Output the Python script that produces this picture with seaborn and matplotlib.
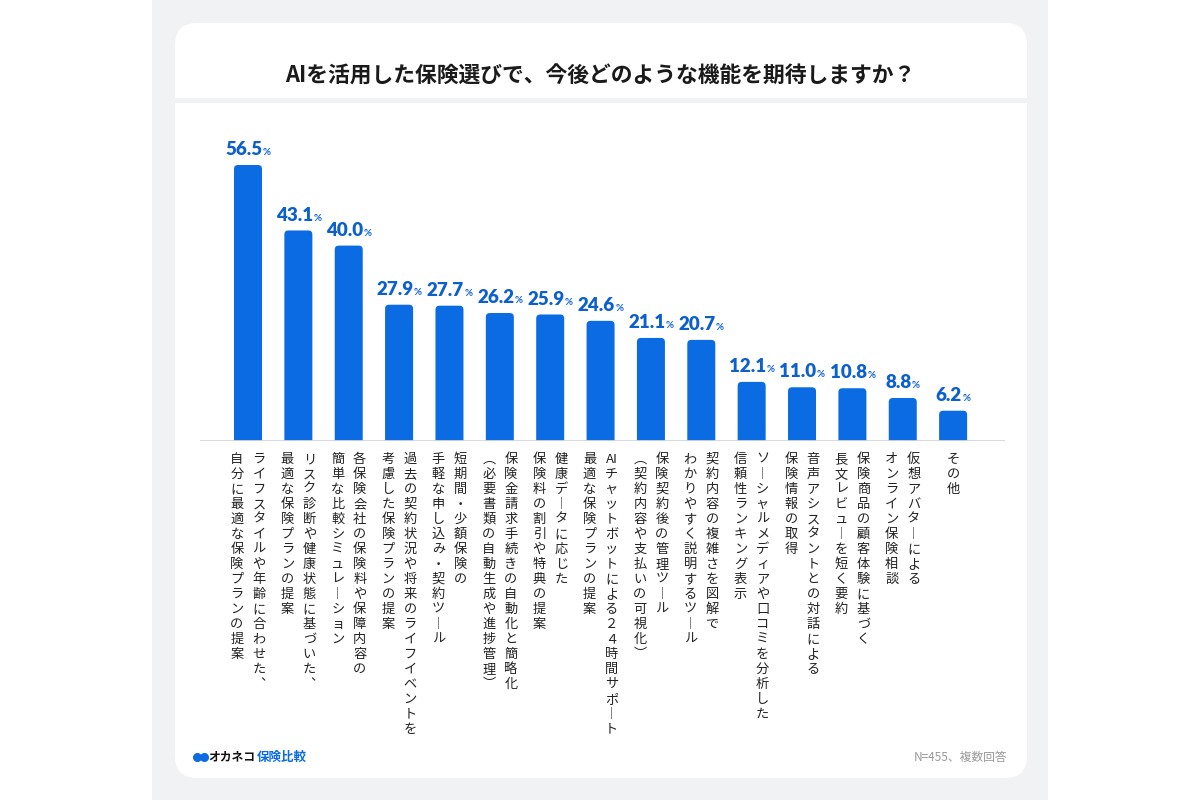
import matplotlib
matplotlib.use("Agg")
import matplotlib.pyplot as plt
import seaborn as sns
import pandas as pd
from matplotlib.patches import FancyBboxPatch, Rectangle
from matplotlib.offsetbox import TextArea, HPacker, AnnotationBbox

# data
title = "AIを活用した保険選びで、今後どのような機能を期待しますか？"
labels = [
    "ライフスタイルや年齢に合わせた、\n自分に最適な保険プランの提案",
    "リスク診断や健康状態に基づいた、\n最適な保険プランの提案",
    "各保険会社の保険料や保障内容の\n簡単な比較シミュレーション",
    "過去の契約状況や将来のライフイベントを\n考慮した保険プランの提案",
    "短期間・少額保険の\n手軽な申し込み・契約ツール",
    "保険金請求手続きの自動化と簡略化\n（必要書類の自動生成や進捗管理）",
    "健康データに応じた\n保険料の割引や特典の提案",
    "AIチャットボットによる２４時間サポート\n最適な保険プランの提案",
    "保険契約後の管理ツール\n（契約内容や支払いの可視化）",
    "契約内容の複雑さを図解で\nわかりやすく説明するツール",
    "ソーシャルメディアや口コミを分析した\n信頼性ランキング表示",
    "音声アシスタントとの対話による\n保険情報の取得",
    "保険商品の顧客体験に基づく\n長文レビューを短く要約",
    "仮想アバターによる\nオンライン保険相談",
    "その他",
]
values = [56.5, 43.1, 40.0, 27.9, 27.7, 26.2, 25.9, 24.6, 21.1, 20.7,
          12.1, 11.0, 10.8, 8.8, 6.2]
note = "N=455、複数回答"

BLUE = "#0a6be3"
VAL_BLUE = "#0b5fcf"
PANEL = "#f1f2f4"

sns.set_theme(style="white")
plt.rcParams['font.family'] = ['Noto Sans CJK JP', 'DejaVu Sans']

# vertical writing forms
VERT = {"ー": "︱", "、": "︑", "（": "︵", "）": "︶"}


def tate(line):
    out = []
    i = 0
    while i < len(line):
        if line[i:i + 2] == "AI":
            out.append("AI")
            i += 2
            continue
        out.append(VERT.get(line[i], line[i]))
        i += 1
    return "\n".join(out)


fig = plt.figure(figsize=(12, 8), dpi=100)
fig.patch.set_facecolor("white")

# background in pixel coords
bg = fig.add_axes([0, 0, 1, 1])
bg.set_xlim(0, 1200)
bg.set_ylim(800, 0)
bg.axis("off")
bg.add_patch(Rectangle((152, 0), 896, 800, fc=PANEL, ec="none"))
bg.add_patch(FancyBboxPatch((175, 23), 852, 755,
                            boxstyle="round,pad=0,rounding_size=22",
                            fc="white", ec="none"))
bg.add_patch(Rectangle((175, 98), 852, 5, fc=PANEL, ec="none"))
bg.text(600, 76, title, ha="center", va="center", fontsize=15.7,
        fontweight="bold", color="#1a1a1a")
bg.plot([196.5, 203.5], [757, 757], "o", ms=5.5, color=BLUE)
logo = HPacker(children=[
    TextArea("オカネコ", textprops=dict(fontsize=8.5, fontweight="bold",
                                       color="#111111")),
    TextArea("保険比較", textprops=dict(fontsize=9, fontweight="bold",
                                       color=BLUE))],
    align="baseline", pad=0, sep=1)
bg.add_artist(AnnotationBbox(logo, (208, 757), box_alignment=(0, 0.5),
                             frameon=False, pad=0))
bg.text(1007, 757, note, ha="right", va="center", fontsize=8.5,
        color="#9a9a9a")

# main chart
x0, x1, ybase, ytop = 200, 1005, 441, 130
ax = fig.add_axes([x0 / 1200, (800 - ybase) / 800,
                   (x1 - x0) / 1200, (ybase - ytop) / 800])
df = pd.DataFrame({"item": labels, "pct": values})
sns.barplot(data=df, x="item", y="pct", color=BLUE, saturation=1,
            width=0.556, ax=ax)

xlim = (-0.953, len(values) - 1 + 1.03)
ylim = (0, (ybase - ytop) / 4.885)
ax.set_xlim(*xlim)
ax.set_ylim(*ylim)

# rounded tops
px_x = (x1 - x0) / (xlim[1] - xlim[0])
px_y = (ybase - ytop) / (ylim[1] - ylim[0])
r = 4 / px_x
asp = px_x / px_y
for p in list(ax.patches):
    bx, bw, bh = p.get_x(), p.get_width(), p.get_height()
    p.remove()
    ax.add_patch(FancyBboxPatch((bx, -3), bw, bh + 3,
                                boxstyle=f"round,pad=0,rounding_size={r}",
                                mutation_aspect=asp, fc=BLUE, ec="none",
                                clip_on=True))

ax.axhline(0, color="#d5d7da", lw=1.3, zorder=3)
ax.patch.set_visible(False)
sns.despine(ax=ax, left=True, bottom=True)
ax.set_xticks([])
ax.set_yticks([])
ax.set_xlabel("")
ax.set_ylabel("")

# value labels
for i, v in enumerate(values):
    num = TextArea(f"{v:.1f}", textprops=dict(fontsize=13.5, fontweight="heavy",
                                               color=VAL_BLUE, family="Lato"))
    pct = TextArea("%", textprops=dict(fontsize=7, fontweight="bold",
                                       color=VAL_BLUE, family="Lato"))
    pack = HPacker(children=[num, pct], align="baseline", pad=0, sep=0.3)
    ab = AnnotationBbox(pack, (i, v), xybox=(0, 5), xycoords="data",
                        boxcoords="offset points", box_alignment=(0.5, 0),
                        frameon=False, pad=0, annotation_clip=False)
    ax.add_artist(ab)

# vertical category labels, first line on the right
col_sp = 22 * 0.72
for i, lab in enumerate(labels):
    cols = lab.split("\n")
    n = len(cols)
    for j, c in enumerate(cols):
        dx = ((n - 1) / 2 - j) * col_sp
        ax.annotate(tate(c), xy=(i, 0), xycoords=("data", "axes fraction"),
                    xytext=(dx, -12 * 0.72), textcoords="offset points",
                    ha="center", va="top", fontsize=9.5, linespacing=1.2,
                    color="#222222", annotation_clip=False)

fig.savefig("out.png", dpi=100)
